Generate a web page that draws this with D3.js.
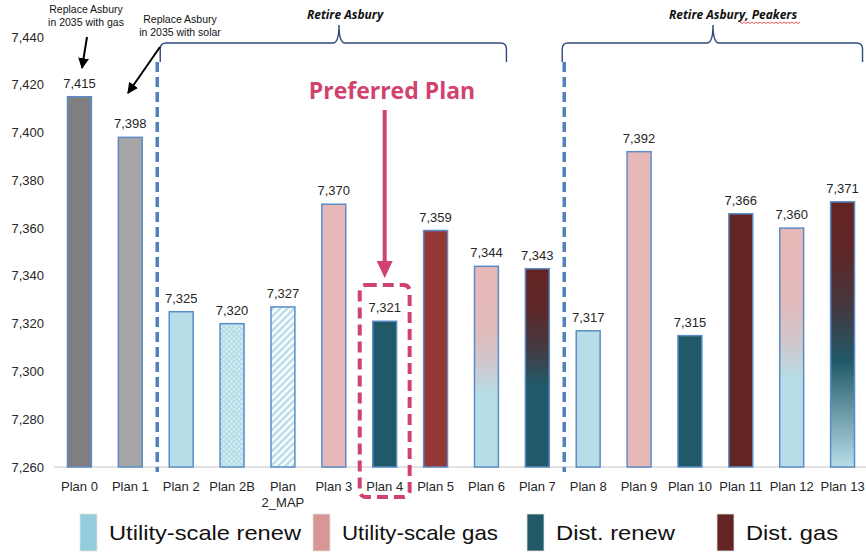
<!DOCTYPE html>
<html><head><meta charset="utf-8">
<script src="https://cdn.jsdelivr.net/npm/d3@7"></script>
<style>
html,body{margin:0;padding:0;background:#fff;}
svg{display:block;font-family:"Liberation Sans",Arial,sans-serif;}
</style></head>
<body><svg id="c" width="866" height="552"></svg>
<script>
const plans = ["Plan 0","Plan 1","Plan 2","Plan 2B","Plan 2_MAP","Plan 3","Plan 4","Plan 5","Plan 6","Plan 7","Plan 8","Plan 9","Plan 10","Plan 11","Plan 12","Plan 13"];
const values = [7415,7398,7325,7320,7327,7370,7321,7359,7344,7343,7317,7392,7315,7366,7360,7371];
const fillKeys = ["gray0","gray1","urenew","urenewDots","urenewStripes","ugas","drenew","dgasLight","ugasToRenew","dgasToDrenew","urenew","ugas","drenew","dgas","ugasToRenew","dgasToAll"];
const yTicks = [7260,7280,7300,7320,7340,7360,7380,7400,7420,7440];
const legendLabels = ["Utility-scale renew","Utility-scale gas","Dist. renew","Dist. gas"];
const legendColors = ["#93CDDD","#D99694","#215968","#632523"];
const groups = [
  {label:"Retire Asbury", from:"Plan 2", to:"Plan 7"},
  {label:"Retire Asbury, Peakers", from:"Plan 8", to:"Plan 13"}
];

const svg = d3.select("#c");
const x = d3.scaleBand().domain(plans).range([54,868]).paddingInner(0.53).paddingOuter(0.265);
const y = d3.scaleLinear().domain([7260,7440]).range([467,37]);
const defs = svg.append("defs");

function grad(id, stops){
  const g = defs.append("linearGradient").attr("id",id).attr("x1",0).attr("y1",0).attr("x2",0).attr("y2",1);
  stops.forEach(s=>g.append("stop").attr("offset",s[0]).attr("stop-color",s[1]));
}
grad("ugasToRenew",[[0,"#E6B9B8"],[0.3,"#E3B9B9"],[0.48,"#CFC7CC"],[0.64,"#B7DEE8"],[1,"#B7DEE8"]]);
grad("dgasToDrenew",[[0,"#632523"],[0.2,"#5E2628"],[0.4,"#463A40"],[0.58,"#215968"],[1,"#215968"]]);
grad("dgasToAll",[[0,"#632523"],[0.18,"#602526"],[0.4,"#43393F"],[0.6,"#215968"],[1,"#B7DEE8"]]);
const pd = defs.append("pattern").attr("id","dots").attr("patternUnits","userSpaceOnUse").attr("width",5).attr("height",5);
pd.append("rect").attr("width",5).attr("height",5).attr("fill","#B7DEE8");
pd.append("circle").attr("cx",1.5).attr("cy",1.5).attr("r",0.9).attr("fill","#EAF6F9");
pd.append("circle").attr("cx",4).attr("cy",4).attr("r",0.9).attr("fill","#EAF6F9");
const ps = defs.append("pattern").attr("id","stripes").attr("patternUnits","userSpaceOnUse").attr("width",5).attr("height",5).attr("patternTransform","rotate(45)");
ps.append("rect").attr("width",5).attr("height",5).attr("fill","#FFFFFF");
ps.append("rect").attr("width",2.5).attr("height",5).attr("fill","#B7DEE8");

const fillMap = {gray0:"#7F7F7F",gray1:"#A6A6A6",urenew:"#B7DEE8",urenewDots:"url(#dots)",urenewStripes:"url(#stripes)",
  ugas:"#E6B9B8",drenew:"#215968",dgasLight:"#953735",dgas:"#632523",
  ugasToRenew:"url(#ugasToRenew)",dgasToDrenew:"url(#dgasToDrenew)",dgasToAll:"url(#dgasToAll)"};

// y tick labels
svg.append("g").selectAll("text").data(yTicks).join("text")
  .attr("x",44).attr("y",d=>y(d)).attr("dy","0.35em").attr("text-anchor","end")
  .attr("font-size",13).attr("fill","#262626").text(d=>d3.format(",")(d));

// baseline
svg.append("line").attr("x1",54).attr("x2",866).attr("y1",y(7260)).attr("y2",y(7260)).attr("stroke","#D9D9D9").attr("stroke-width",1.3);

// bars
const data = plans.map((p,i)=>({p,v:values[i],f:fillKeys[i]}));
svg.append("g").selectAll("rect").data(data).join("rect")
  .attr("x",d=>x(d.p)).attr("width",x.bandwidth())
  .attr("y",d=>y(d.v)).attr("height",d=>y(7260)-y(d.v))
  .attr("fill",d=>fillMap[d.f]).attr("stroke","#5B8CC6").attr("stroke-width",1.5);

// value labels
svg.append("g").selectAll("text").data(data).join("text")
  .attr("x",d=>x(d.p)+x.bandwidth()/2).attr("y",d=>y(d.v)-9)
  .attr("text-anchor","middle").attr("font-size",13).attr("fill","#262626")
  .text(d=>d3.format(",")(d.v));

// x labels
const xl = svg.append("g").selectAll("text").data(plans).join("text")
  .attr("x",d=>x(d)+x.bandwidth()/2).attr("y",491)
  .attr("text-anchor","middle").attr("font-size",13).attr("fill","#262626");
xl.each(function(d){
  const t = d3.select(this);
  if(d.length>7){
    const parts = d.split(" ");
    t.append("tspan").attr("x",x(d)+x.bandwidth()/2).text(parts[0]);
    t.append("tspan").attr("x",x(d)+x.bandwidth()/2).attr("dy",16).text(parts.slice(1).join(" "));
  } else t.text(d);
});

// dashed separators
[["Plan 1","Plan 2"],["Plan 7","Plan 8"]].forEach(([a,b])=>{
  const sx = (x(a)+x.bandwidth()+x(b))/2 + 1.5;
  svg.append("line").attr("x1",sx).attr("x2",sx).attr("y1",62).attr("y2",472)
    .attr("stroke","#4F81BD").attr("stroke-width",3.5).attr("stroke-dasharray","10,5");
});

// braces
const braceGeom = [{x0:x("Plan 2")-9, x1:x("Plan 6")+x.bandwidth()/2+20, cx:339, lx:345},
                   {x0:x("Plan 8")-14, x1:x("Plan 13")+x.bandwidth()+8, cx:713, lx:733}];
groups.forEach((g,i)=>{
  const {x0,x1,cx,lx} = braceGeom[i];
  const yb=43, r=6;
  const path = `M${x0},62 L${x0},${yb+r} Q${x0},${yb} ${x0+r},${yb} L${cx-6},${yb} Q${cx},${yb} ${cx},${yb-r-12} Q${cx},${yb} ${cx+6},${yb} L${x1-r},${yb} Q${x1},${yb} ${x1},${yb+r} L${x1},62`;
  svg.append("path").attr("d",path).attr("fill","none").attr("stroke","#2E4A7A").attr("stroke-width",1.4);
  svg.append("text").attr("x",lx).attr("y",19).attr("text-anchor","middle")
    .attr("font-size",12).attr("font-weight","bold").attr("font-style","italic").attr("fill","#111")
    .attr("font-family","'Open Sans',sans-serif").text(g.label);
});
// spell-check squiggle under "Peakers"
{
  const sx = 740, ex = 800;
  let d = `M${sx},22`;
  for(let xx=sx; xx<ex; xx+=4){ d += ` L${xx+2},23.5 L${xx+4},22`; }
  svg.append("path").attr("d",d).attr("fill","none").attr("stroke","#E03030").attr("stroke-width",0.8);
}

// top-left annotations
function note(lines, cx, y0){
  const t = svg.append("text").attr("text-anchor","middle").attr("font-size",10.5).attr("fill","#111");
  lines.forEach((l,i)=>t.append("tspan").attr("x",cx).attr("y",y0+i*13).text(l));
}
note(["Replace Asbury","in 2035 with gas"], 86, 13);
note(["Replace Asbury","in 2035 with solar"], 180, 23);
defs.append("marker").attr("id","ah").attr("viewBox","0 0 10 10").attr("refX",9).attr("refY",5)
  .attr("markerUnits","userSpaceOnUse").attr("markerWidth",11).attr("markerHeight",11).attr("orient","auto")
  .append("path").attr("d","M0,0 L10,5 L0,10 Z").attr("fill","#000");
svg.append("line").attr("x1",87).attr("y1",37).attr("x2",82).attr("y2",68).attr("stroke","#000").attr("stroke-width",2).attr("marker-end","url(#ah)");
svg.append("line").attr("x1",160).attr("y1",47).attr("x2",128).attr("y2",93).attr("stroke","#000").attr("stroke-width",2).attr("marker-end","url(#ah)");

// Preferred plan
const pc = "#D0436F";
svg.append("text").attr("x",392).attr("y",99).attr("text-anchor","middle").attr("font-size",23).attr("font-weight","bold")
  .attr("font-family","'Open Sans',sans-serif").attr("fill",pc).text("Preferred Plan");
const ax = x("Plan 4")+x.bandwidth()/2;
svg.append("line").attr("x1",ax).attr("x2",ax).attr("y1",110).attr("y2",262).attr("stroke",pc).attr("stroke-width",4);
svg.append("path").attr("d",`M${ax-8},261 L${ax+8},261 L${ax},278 Z`).attr("fill",pc);
svg.append("rect").attr("x",x("Plan 4")-13).attr("y",285).attr("width",x.bandwidth()+26).attr("height",212)
  .attr("rx",6).attr("fill","none").attr("stroke",pc).attr("stroke-width",4).attr("stroke-dasharray","11,6");

// legend
const lg = svg.append("g");
const lx = [80,313,527,717];
const lw = [192,156,119,92];
legendLabels.forEach((l,i)=>{
  lg.append("rect").attr("x",lx[i]).attr("y",514).attr("width",17).attr("height",37).attr("fill",legendColors[i]).attr("stroke","#E0E0E0").attr("stroke-width",0.8);
  lg.append("text").attr("x",lx[i]+29).attr("y",540).attr("font-size",21).attr("fill","#111")
    .attr("textLength",lw[i]).attr("lengthAdjust","spacingAndGlyphs").text(l);
});
</script></body></html>
